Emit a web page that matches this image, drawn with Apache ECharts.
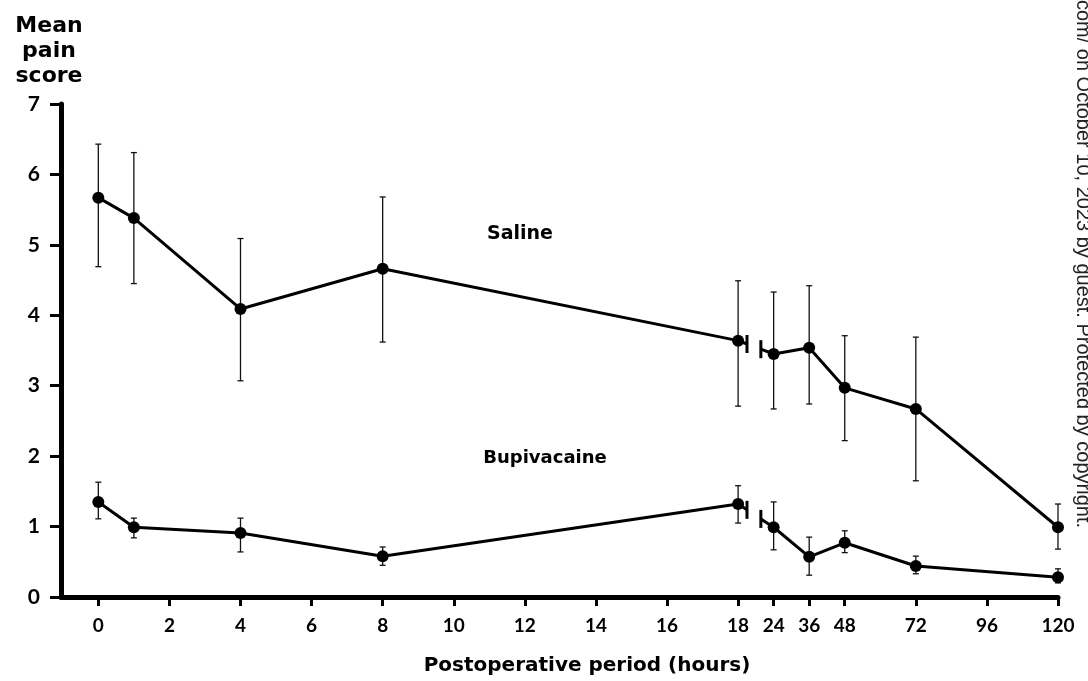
<!DOCTYPE html>
<html><head><meta charset="utf-8">
<script src="https://cdn.jsdelivr.net/npm/echarts@6/dist/echarts.min.js"></script>
<style>html,body{margin:0;padding:0;background:#fff}#c{width:1088px;height:681px}</style>
</head><body><div id="c"></div>
<script>
// ---- data ----
const hours      = [0, 1, 4, 8, 18, 24, 36, 48, 72, 120];
const salineMean = [5.67, 5.38, 4.09, 4.66, 3.64, 3.45, 3.54, 2.97, 2.67, 0.99];
const salineHigh = [6.43, 6.31, 5.09, 5.68, 4.49, 4.33, 4.42, 3.71, 3.69, 1.32];
const salineLow  = [4.69, 4.45, 3.07, 3.62, 2.71, 2.67, 2.74, 2.22, 1.65, 0.68];
const bupiMean   = [1.35, 0.99, 0.91, 0.58, 1.32, 0.99, 0.57, 0.77, 0.44, 0.28];
const bupiHigh   = [1.63, 1.12, 1.12, 0.71, 1.58, 1.35, 0.85, 0.94, 0.58, 0.40];
const bupiLow    = [1.11, 0.84, 0.64, 0.45, 1.05, 0.67, 0.31, 0.63, 0.33, 0.20];
const tickHours  = [0, 2, 4, 6, 8, 10, 12, 14, 16, 18, 24, 36, 48, 72, 96, 120];
const tickLabels = ['0','2','4','6','8','10','12','14','16','18','24','36','48','72','96','120'];
const breakBefore = 18, breakAfter = 24;

// broken time scale: 1 unit per hour up to 18 h, then 1 unit per 12 h from 24 h
function pos(h) { return h <= breakBefore ? h : breakBefore + 1 + (h - breakAfter) / 12; }
const tickPos = tickHours.map(pos);

const FONT = 'Lato';
const TFONT = 'DejaVu Sans';
function lineData(mean, pre) {
  const out = [];
  hours.forEach((h, i) => { if (pre ? h <= breakBefore : h >= breakAfter) out.push([pos(h), mean[i]]); });
  return out;
}
function errData(high, low) { return hours.map((h, i) => [pos(h), low[i], high[i]]); }
function breakData(mean) {
  const i18 = hours.indexOf(breakBefore), i24 = hours.indexOf(breakAfter);
  return [[pos(breakBefore), mean[i18], pos(breakAfter), mean[i24]]];
}

const lineStyleCommon = { color: '#000', width: 3 };
function lineSeries(mean, pre) {
  return { type: 'line', data: lineData(mean, pre), symbol: 'circle', symbolSize: 12,
    itemStyle: { color: '#000' }, lineStyle: lineStyleCommon, animation: false, z: 5 };
}
function errSeries(high, low) {
  return { type: 'custom', data: errData(high, low), animation: false, z: 3,
    renderItem: function (params, api) {
      const x = api.value(0);
      const lo = api.coord([x, api.value(1)]), hi = api.coord([x, api.value(2)]);
      const w = 3;
      const st = { stroke: '#111', lineWidth: 1.3 };
      return { type: 'group', children: [
        { type: 'line', shape: { x1: lo[0], y1: lo[1], x2: hi[0], y2: hi[1] }, style: st },
        { type: 'line', shape: { x1: lo[0] - w, y1: lo[1], x2: lo[0] + w, y2: lo[1] }, style: st },
        { type: 'line', shape: { x1: hi[0] - w, y1: hi[1], x2: hi[0] + w, y2: hi[1] }, style: st }
      ]};
    } };
}
function breakSeries(mean) {
  return { type: 'custom', data: breakData(mean), animation: false, z: 4,
    renderItem: function (params, api) {
      const a = api.coord([api.value(0), api.value(1)]);
      const b = api.coord([api.value(2), api.value(3)]);
      const lerp = t => [a[0] + (b[0] - a[0]) * t, a[1] + (b[1] - a[1]) * t];
      const p1 = lerp(0.25), p2 = lerp(0.64);
      const h = 9;
      const st = { stroke: '#000', lineWidth: 3 };
      return { type: 'group', children: [
        { type: 'line', shape: { x1: a[0], y1: a[1], x2: p1[0], y2: p1[1] }, style: st },
        { type: 'line', shape: { x1: p1[0], y1: p1[1] - h, x2: p1[0], y2: p1[1] + h }, style: st },
        { type: 'line', shape: { x1: p2[0], y1: p2[1], x2: b[0], y2: b[1] }, style: st },
        { type: 'line', shape: { x1: p2[0], y1: p2[1] - h, x2: p2[0], y2: p2[1] + h }, style: st }
      ]};
    } };
}

const chart = echarts.init(document.getElementById('c'), null, { renderer: 'canvas' });
chart.setOption({
  backgroundColor: '#fff',
  animation: false,
  grid: { left: 61, right: 30, top: 104, bottom: 84, containLabel: false },
  xAxis: {
    type: 'value', min: -1.05, max: pos(120),
    axisLine: { show: true, onZero: false, lineStyle: { color: '#000', width: 5 } },
    axisTick: { show: true, customValues: tickPos, length: 9, lineStyle: { color: '#000', width: 3 } },
    axisLabel: { customValues: tickPos, margin: 19, color: '#000', fontFamily: FONT, fontWeight: 'bold', fontSize: 19,
      formatter: v => { const k = tickPos.findIndex(p => Math.abs(p - v) < 1e-6); return k >= 0 ? tickLabels[k] : ''; } },
    splitLine: { show: false }
  },
  yAxis: {
    type: 'value', min: 0, max: 7, interval: 1,
    axisLine: { show: true, onZero: false, lineStyle: { color: '#000', width: 5 } },
    axisTick: { show: true, length: 11, lineStyle: { color: '#000', width: 3 } },
    axisLabel: { margin: 21, color: '#000', fontFamily: FONT, fontWeight: 'bold', fontSize: 21 },
    splitLine: { show: false }
  },
  graphic: [
    { type: 'text', x: 49, y: 51, style: { text: 'Mean\npain\nscore', fontFamily: TFONT, fontWeight: 'bold', fontSize: 22, lineHeight: 25, fill: '#000', align: 'center', verticalAlign: 'middle' } },
    { type: 'text', x: 587, y: 666, style: { text: 'Postoperative period (hours)', fontFamily: TFONT, fontWeight: 'bold', fontSize: 20, fill: '#000', align: 'center', verticalAlign: 'middle' } },
    { type: 'text', x: 520, y: 234, style: { text: 'Saline', fontFamily: TFONT, fontWeight: 'bold', fontSize: 19, fill: '#000', align: 'center', verticalAlign: 'middle' } },
    { type: 'text', x: 545, y: 458, style: { text: 'Bupivacaine', fontFamily: TFONT, fontWeight: 'bold', fontSize: 18, fill: '#000', align: 'center', verticalAlign: 'middle' } },
    { type: 'text', x: 1073, y: 528, rotation: -Math.PI / 2, style: { text: 'Downloaded from http://www.bmj.com/ on October 10, 2023 by guest. Protected by copyright.', fontFamily: 'Liberation Sans', fontSize: 20, fill: '#222', align: 'right', verticalAlign: 'bottom' } }
  ],
  series: [
    errSeries(salineHigh, salineLow),
    errSeries(bupiHigh, bupiLow),
    lineSeries(salineMean, true), lineSeries(salineMean, false),
    lineSeries(bupiMean, true), lineSeries(bupiMean, false),
    breakSeries(salineMean), breakSeries(bupiMean)
  ]
});
</script></body></html>
